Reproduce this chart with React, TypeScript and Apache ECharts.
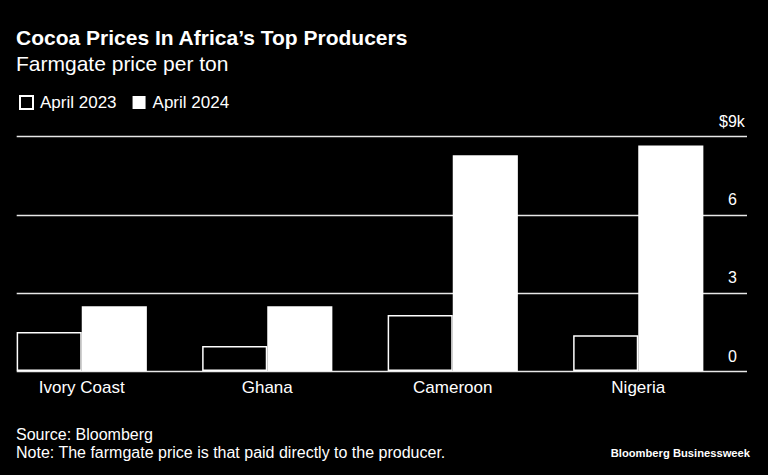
import React, { useEffect, useRef } from "react";
import * as echarts from "echarts";

const categories = ["Ivory Coast", "Ghana", "Cameroon", "Nigeria"];
const april2023 = [1.5, 0.96, 2.15, 1.37];
const april2024 = [2.49, 2.49, 8.29, 8.66];
const seriesNames = ["April 2023", "April 2024"];
const yTicks = [0, 3, 6, 9];

const FONT = "'Liberation Sans', Arial, Helvetica, sans-serif";

export default function App() {
  const ref = useRef<HTMLDivElement>(null);
  useEffect(() => {
    document.body.style.margin = "0";
    document.body.style.background = "#000";
    const chart = echarts.init(ref.current!, null, { renderer: "svg" });
    const yMin = yTicks[0];
    const yMax = yTicks[yTicks.length - 1];
    const yInt = yTicks[1] - yTicks[0];
    chart.setOption({
      animation: false,
      backgroundColor: "#000",
      textStyle: { fontFamily: FONT },
      title: [
        {
          text: "Cocoa Prices In Africa’s Top Producers",
          left: 16,
          top: 27,
          padding: 0,
          textStyle: { color: "#fff", fontSize: 21, fontWeight: "bold", fontFamily: FONT },
        },
        {
          text: "Farmgate price per ton",
          left: 16,
          top: 53,
          padding: 0,
          textStyle: { color: "#fff", fontSize: 21, fontWeight: "normal", fontFamily: FONT },
        },
        {
          text: "Source: Bloomberg",
          left: 16,
          top: 426,
          padding: 0,
          textStyle: { color: "#fff", fontSize: 16, fontWeight: "normal", fontFamily: FONT },
        },
        {
          text: "Note: The farmgate price is that paid directly to the producer.",
          left: 16,
          top: 444,
          padding: 0,
          textStyle: { color: "#fff", fontSize: 16, fontWeight: "normal", fontFamily: FONT },
        },
        {
          text: "Bloomberg Businessweek",
          right: 18,
          top: 447,
          padding: 0,
          textStyle: { color: "#fff", fontSize: 11.2, fontWeight: "bold", fontFamily: FONT },
        },
      ],
      legend: {
        left: 14,
        top: 89,
        icon: "rect",
        itemWidth: 13,
        itemHeight: 13,
        itemGap: 16,
        textStyle: { color: "#fff", fontSize: 17, fontFamily: FONT, padding: [0, 0, 0, 2] },
        data: seriesNames,
      },
      grid: [
        { left: -11, right: 37, top: 136.7, bottom: 104, outerBoundsMode: "none" },
        { left: 16.7, right: 21, top: 136.7, bottom: 104, outerBoundsMode: "none" },
      ],
      xAxis: [
        {
          type: "category",
          gridIndex: 0,
          data: categories,
          axisLine: { show: false },
          axisTick: { show: false },
          axisLabel: { color: "#fff", fontSize: 17, margin: 8, fontFamily: FONT },
        },
        { type: "value", gridIndex: 1, show: false, min: 0, max: 1 },
      ],
      yAxis: [
        { type: "value", gridIndex: 0, min: yMin, max: yMax, interval: yInt, show: false },
        {
          type: "value",
          gridIndex: 1,
          position: "right",
          min: yMin,
          max: yMax,
          interval: yInt,
          axisLine: { show: false },
          axisTick: { show: false },
          splitLine: { show: true, lineStyle: { color: "#e8e8e8", width: 1.3 } },
          axisLabel: {
            inside: true,
            align: "left",
            verticalAlign: "bottom",
            margin: 19,
            padding: [0, 0, 7, 0],
            color: "#fff",
            fontSize: 16,
            fontFamily: FONT,
            formatter: (v: number) => (v === yMax ? "" : String(v)),
          },
        },
        {
          type: "value",
          gridIndex: 1,
          position: "right",
          min: yMin,
          max: yMax,
          interval: yInt,
          axisLine: { show: false },
          axisTick: { show: false },
          splitLine: { show: false },
          axisLabel: {
            inside: true,
            align: "left",
            verticalAlign: "bottom",
            margin: 28,
            padding: [0, 0, 7, 0],
            color: "#fff",
            fontSize: 16,
            fontFamily: FONT,
            formatter: (v: number) => (v === yMax ? "$" + v + "k" : ""),
          },
        },
      ],
      series: [
        {
          name: seriesNames[0],
          type: "bar",
          xAxisIndex: 0,
          yAxisIndex: 0,
          data: april2023,
          barGap: "0%",
          barCategoryGap: "29.8%",
          itemStyle: { color: "#000", borderColor: "#fff", borderWidth: 1.5 },
          z: 3,
        },
        {
          name: seriesNames[1],
          type: "bar",
          xAxisIndex: 0,
          yAxisIndex: 0,
          data: april2024,
          barGap: "0%",
          barCategoryGap: "29.8%",
          itemStyle: { color: "#fff" },
          z: 3,
        },
      ],
    });
    return () => chart.dispose();
  }, []);
  return <div ref={ref} style={{ width: 768, height: 475, background: "#000" }} />;
}
